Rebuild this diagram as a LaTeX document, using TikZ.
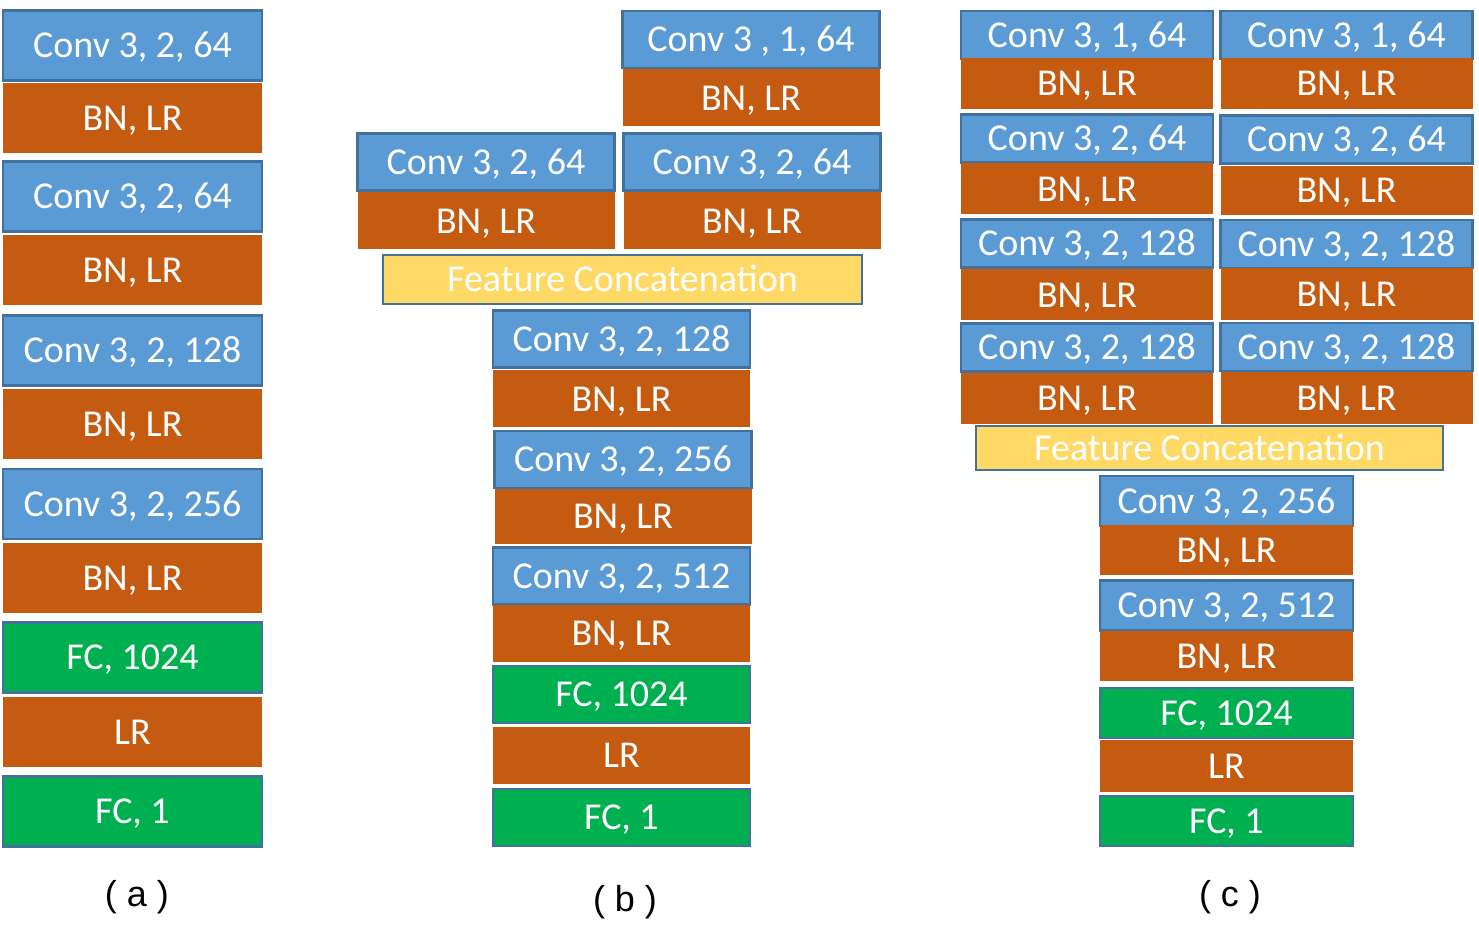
\documentclass[tikz,border=0pt]{standalone}
\usepackage{fontspec}
\setmainfont{Carlito}
\newfontfamily\capfont{Liberation Sans}
\definecolor{convblue}{HTML}{5B9BD5}
\definecolor{edgeblue}{HTML}{41719C}
\definecolor{bnorange}{HTML}{C55A11}
\definecolor{fcgreen}{HTML}{00B050}
\definecolor{catyellow}{HTML}{FFD966}
\tikzset{
  wh/.style 2 args={minimum width=#1*0.5pt, minimum height=#2*0.5pt},
  blk/.style={inner sep=0pt, text=white, font=\fontsize{19}{22}\selectfont,
    text height=12.2pt, text depth=0pt},
  convbox/.style={blk, fill=convblue, draw=edgeblue, line width=1.2pt},
  bnbox/.style={blk, fill=bnorange},
  fcbox/.style={blk, fill=fcgreen, draw=edgeblue, line width=1.2pt},
  catbox/.style={blk, fill=catyellow, draw=edgeblue, line width=1.2pt},
  sub/.style={font=\capfont\fontsize{18}{22}\selectfont},
}
\begin{document}
\begin{tikzpicture}[x=0.5pt,y=-0.5pt]
  \useasboundingbox (0,0) rectangle (1479,945);
  % Network (a)
  \begin{scope}[every node/.append style={wh={259}{70}}]
    \node[convbox] (a1) at (132.5,45.5) {Conv 3, 2, 64};
    \node[bnbox] (a2) at (132.5,118) {BN, LR};
    \node[convbox] (a3) at (132.5,196.5) {Conv 3, 2, 64};
    \node[bnbox] (a4) at (132.5,270.5) {BN, LR};
    \node[convbox] (a5) at (132.5,350.5) {Conv 3, 2, 128};
    \node[bnbox] (a6) at (132.5,424.5) {BN, LR};
    \node[convbox] (a7) at (132.5,504) {Conv 3, 2, 256};
    \node[bnbox] (a8) at (132.5,578.5) {BN, LR};
    \node[fcbox] (a9) at (132.5,657.5) {FC, 1024};
    \node[bnbox] (a10) at (132.5,732) {LR};
    \node[fcbox] (a11) at (132.5,811.5) {FC, 1};
  \end{scope}
  \node[sub] (acap) at (137,897) {( a )};
  % Network (b)
  \begin{scope}[every node/.append style={wh={257}{57}}]
    \node[convbox] (b1) at (751,39.5) {Conv 3 , 1, 64};
    \node[bnbox] (b2) at (751,98) {BN, LR};
    \node[convbox] (b3) at (486,162) {Conv 3, 2, 64};
    \node[bnbox] (b4) at (486,221) {BN, LR};
    \node[convbox] (b5) at (752,162) {Conv 3, 2, 64};
    \node[bnbox] (b6) at (752,221) {BN, LR};
    \node[catbox, wh={479}{49}] (b7) at (622.5,279.5) {Feature Concatenation};
    \node[convbox] (b8) at (621.5,339) {Conv 3, 2, 128};
    \node[bnbox] (b9) at (621.5,399) {BN, LR};
    \node[convbox] (b10) at (623,459.5) {Conv 3, 2, 256};
    \node[bnbox, wh={257}{55}] (b11) at (623,516.5) {BN, LR};
    \node[convbox] (b12) at (621.5,576) {Conv 3, 2, 512};
    \node[bnbox] (b13) at (621.5,633.5) {BN, LR};
    \node[fcbox] (b14) at (621.5,694.5) {FC, 1024};
    \node[bnbox] (b15) at (621.5,755.5) {LR};
    \node[fcbox] (b16) at (621.5,817.5) {FC, 1};
  \end{scope}
  \node[sub] (bcap) at (625,902) {( b )};
  % Network (c), two branches
  \begin{scope}[every node/.append style={wh={252}{48}}]
    \node[convbox] (c1) at (1087,35) {Conv 3, 1, 64};
    \node[bnbox, wh={252}{51}] (c2) at (1087,83.5) {BN, LR};
    \node[convbox] (c3) at (1087,138.5) {Conv 3, 2, 64};
    \node[bnbox, wh={252}{51}] (c4) at (1087,189) {BN, LR};
    \node[convbox] (c5) at (1087,243.5) {Conv 3, 2, 128};
    \node[bnbox, wh={252}{51}] (c6) at (1087,295) {BN, LR};
    \node[convbox] (c7) at (1087,347.5) {Conv 3, 2, 128};
    \node[bnbox, wh={252}{51}] (c8) at (1087,398.5) {BN, LR};
    \node[convbox] (d1) at (1346.5,35) {Conv 3, 1, 64};
    \node[bnbox, wh={252}{51}] (d2) at (1346.5,83.5) {BN, LR};
    \node[convbox] (d3) at (1346.5,139.5) {Conv 3, 2, 64};
    \node[bnbox, wh={252}{49}] (d4) at (1346.5,190.5) {BN, LR};
    \node[convbox] (d5) at (1346.5,244) {Conv 3, 2, 128};
    \node[bnbox, wh={252}{52}] (d6) at (1346.5,294) {BN, LR};
    \node[convbox] (d7) at (1346.5,347) {Conv 3, 2, 128};
    \node[bnbox, wh={252}{52}] (d8) at (1346.5,398) {BN, LR};
  \end{scope}
  \node[catbox, wh={467}{44}] (ccat) at (1209.5,448) {Feature Concatenation};
  \begin{scope}[every node/.append style={wh={253}{50}}]
    \node[convbox] (c9) at (1226.5,501) {Conv 3, 2, 256};
    \node[bnbox] (c10) at (1226.5,550.5) {BN, LR};
    \node[convbox] (c11) at (1226.5,605.5) {Conv 3, 2, 512};
    \node[bnbox] (c12) at (1226.5,656) {BN, LR};
    \node[fcbox] (c13) at (1226.5,713) {FC, 1024};
    \node[bnbox, wh={253}{52}] (c14) at (1226.5,766) {LR};
    \node[fcbox] (c15) at (1226.5,821) {FC, 1};
  \end{scope}
  \node[sub] (ccap) at (1230,897) {( c )};
\end{tikzpicture}
\end{document}
